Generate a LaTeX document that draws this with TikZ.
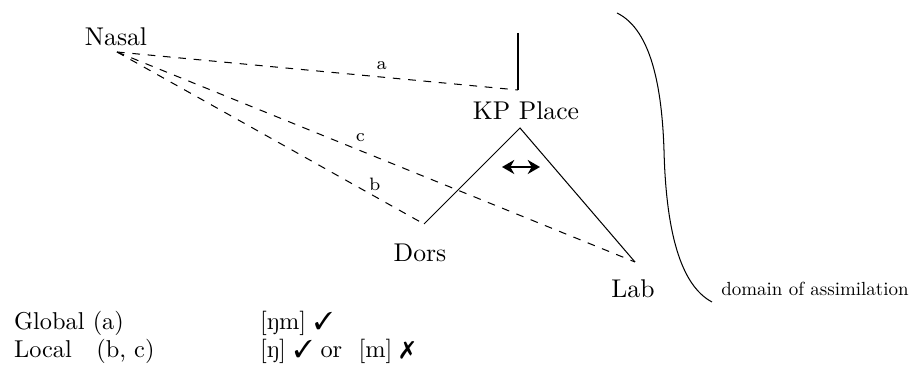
\documentclass[tikz,border=0pt]{standalone}
\usepackage{pifont}
\usetikzlibrary{arrows.meta,positioning}

\begin{document}
\begin{tikzpicture}[>=Stealth,x=0.0137cm,y=-0.0137cm,
  assoc/.style={dashed},
  lbl/.style={font=\scriptsize,inner sep=1pt},
  row/.style={anchor=west,font=\fontsize{9.5}{11}\selectfont}]
\useasboundingbox (0,0) rectangle (912,369);
% tree
\node (nasal) at (116,37) {Nasal};
\node (kp) at (526,111) {KP Place};
\node (dorslbl) at (420,253) {Dors};
\node (lablbl) at (633,289) {Lab};
\coordinate (nas) at (117,52);
\coordinate (top) at (518,33);
\coordinate (root) at (518,90);
\coordinate (apex) at (520,128);
\coordinate (dors) at (424,224);
\coordinate (lab) at (635,262);
\draw (top) -- (root);
\draw (dors) -- (apex) -- (lab);
\draw[line width=1pt,{Stealth[length=4.8pt,width=5.5pt]}-{Stealth[length=4.8pt,width=5.5pt]}]
  (502,167) coordinate (l) -- (540,167) coordinate (r);
% association lines
\draw[assoc] (nas) -- node[lbl,pos=0.66,above=1.5pt] {a} (root);
\draw[assoc] (nas) -- node[lbl,pos=0.47,above=2.5pt] {c} (lab);
\draw[assoc] (nas) -- node[lbl,pos=0.84,above=1pt] {b} (dors);
% domain bracket
\coordinate (btop) at (617,13);
\coordinate (bbot) at (712,302);
\draw (btop) .. controls (652,30) and (662,90) .. (664,150)
             .. controls (666,230) and (680,285) .. (bbot);
\node[scale=0.74,anchor=west,inner sep=1pt] (domain) at (719,289) {domain of assimilation};
% results
\node[row] (global) at (5,323) {Global (a)};
\node[row] (local) at (5,351) {Local\quad (b, c)};
\node[row] (gres) at (251,323) {[ŋm] \ding{51}};
\node[row] (lres) at (251,351) {[ŋ] \ding{51} or\ \ [m] \ding{55}};
\end{tikzpicture}
\end{document}
